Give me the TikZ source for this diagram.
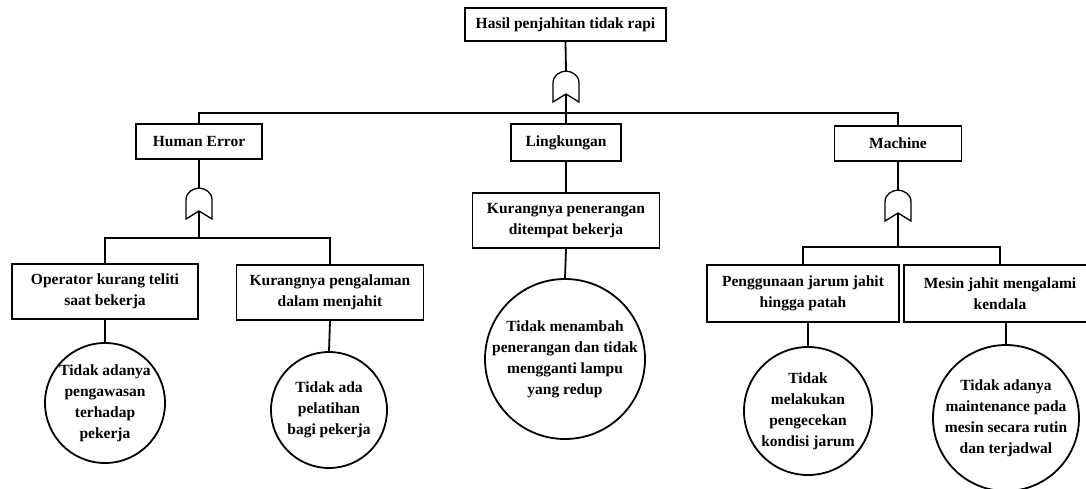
\documentclass[tikz,border=0pt]{standalone}
\usepackage{fontspec}
\setmainfont{Liberation Serif}

\tikzset{
  box/.style={draw, rectangle, align=center, inner sep=0pt,
    font=\bfseries\fontsize{15.5}{21}\selectfont},
  cause/.style={draw, circle, inner sep=0pt, minimum size=#1},
  ctext/.style={align=center, font=\bfseries\fontsize{15.5}{21}\selectfont},
  orgate/.pic={
    \draw[line width=1.3pt, fill=white] (-13,31) -- (-13,12)
      .. controls (-13,4) and (-6,0.5) .. (0,0)
      .. controls (6,0.5) and (13,4) .. (13,12) -- (13,31) -- (0,23) -- cycle;
    \coordinate (-in) at (0,0);
    \coordinate (-out) at (0,23);
  }
}

\begin{document}
\begin{tikzpicture}[x=1pt, y=-1pt, line width=1.8pt]
\useasboundingbox (0,0) rectangle (1086,488);

\node[box, minimum width=201pt, minimum height=33pt] (top) at (565.5,24.5) {Hasil penjahitan tidak rapi};
\pic (g0) at (566,71) {orgate};
\coordinate (bar0) at (566,113);

\node[box, minimum width=126pt, minimum height=35pt] (he) at (199,141.5) {Human Error};
\node[box, minimum width=110pt, minimum height=37pt] (ling) at (566,142.5) {Lingkungan};
\node[box, minimum width=127pt, minimum height=35pt] (mach) at (898,143.5) {Machine};

\draw (top.south) -- (g0-in);
\draw (g0-out) -- (bar0);
\draw (he.north) -- (he.north |- bar0) -- (mach.north |- bar0) -- (mach.north);
\draw (ling.north) -- (bar0);

% human error
\pic (g1) at (199,188) {orgate};
\coordinate (bar1) at (199,238);
\node[box, minimum width=186pt, minimum height=55pt] (op) at (105,291.5) {Operator kurang teliti\\saat bekerja};
\node[box, minimum width=187pt, minimum height=55pt] (pgl) at (330,292.5) {Kurangnya pengalaman\\dalam menjahit};
\node[cause=120pt, label={[ctext]center:Tidak adanya\\pengawasan\\terhadap\\pekerja}] (c1) at (105,403) {};
\node[cause=116pt, label={[ctext]center:Tidak ada\\pelatihan\\bagi pekerja}] (c2) at (329,410) {};

\draw (he.south) -- (g1-in);
\draw (g1-out) -- (bar1);
\draw (op.north) -- (op.north |- bar1) -- (pgl.north |- bar1) -- (pgl.north);
\draw (op.south) -- (c1.north);
\draw (pgl.south) -- (c2.north);

% lingkungan
\node[box, minimum width=187pt, minimum height=55pt] (kp) at (566,220.5) {Kurangnya penerangan\\ditempat bekerja};
\node[cause=160pt, label={[ctext]center:Tidak menambah\\penerangan dan tidak\\mengganti lampu\\yang redup}] (c3) at (565,359) {};

\draw (ling.south) -- (kp.north);
\draw (kp.south) -- (c3.north);

% machine
\pic (g2) at (898,190) {orgate};
\coordinate (bar2) at (898,247);
\node[box, minimum width=192pt, minimum height=57pt] (pj) at (803,293.5) {Penggunaan jarum jahit\\hingga patah};
\node[box, minimum width=192pt, minimum height=57pt] (mj) at (1000,293.5) {Mesin jahit mengalami\\kendala};
\node[cause=128pt, label={[ctext]center:Tidak\\melakukan\\pengecekan\\kondisi jarum}] (c4) at (808,411) {};
\node[cause=146pt, label={[ctext]center:Tidak adanya\\maintenance pada\\mesin secara rutin\\dan terjadwal}] (c5) at (1006,418) {};

\draw (mach.south) -- (g2-in);
\draw (g2-out) -- (bar2);
\draw (pj.north) -- (pj.north |- bar2) -- (mj.north |- bar2) -- (mj.north);
\draw (c4.north |- pj.south) -- (c4.north);
\draw (c5.north |- mj.south) -- (c5.north);

\end{tikzpicture}
\end{document}
